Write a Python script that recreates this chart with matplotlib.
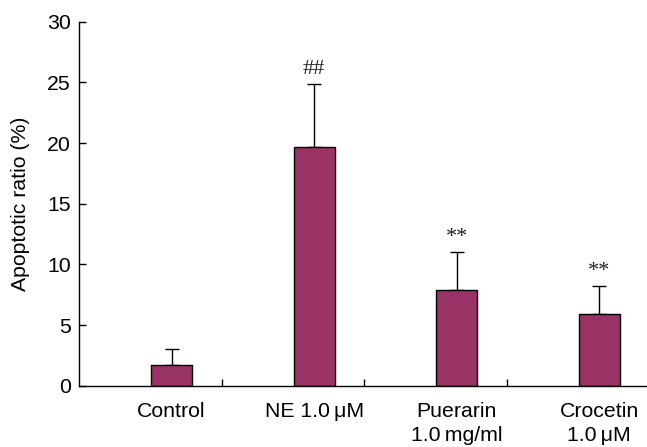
import numpy as np
import matplotlib
matplotlib.use("Agg")
import matplotlib.pyplot as plt
from matplotlib.ticker import FixedLocator

plt.rcParams['font.family'] = ['Liberation Sans', 'DejaVu Sans']

# values
groups = ["Control", "NE 1.0\u2009\u03bcM", "Puerarin\n1.0\u2009mg/ml", "Crocetin\n1.0\u2009\u03bcM"]
means = [1.7, 19.65, 7.85, 5.9]
upper_err = [1.3, 5.25, 3.2, 2.35]
marks = ["", "##", "**", "**"]

bar_color = "#993366"
fs = 15.3

fig = plt.figure(figsize=(6.47, 4.47), dpi=100)
ax = fig.add_axes([0.1221, 0.137, 0.881, 0.8145])

x = np.arange(len(groups)) + 0.5 + 0.15
ax.bar(x, means, width=0.288, color=bar_color, edgecolor="black", linewidth=1.0, zorder=2)
ax.errorbar(x, means, yerr=[np.zeros(len(means)), upper_err], fmt="none",
            ecolor="black", elinewidth=1.0, capsize=4.9, capthick=1.0, zorder=1)

for xi, m, e, s in zip(x, means, upper_err, marks):
    if s:
        ax.annotate(s, (xi, m + e), xytext=(0, 3), textcoords="offset points",
                    ha="center", va="bottom", fontsize=16,
                    family=["Liberation Serif", "DejaVu Serif"], color="#222222")

ax.set_xlim(0, len(groups))
ax.set_ylim(0, 30)
ax.set_yticks(np.arange(0, 31, 5))

ax.xaxis.set_major_locator(FixedLocator([1, 2, 3]))
ax.set_xticklabels([])
ax.xaxis.set_minor_locator(FixedLocator(x))
ax.set_xticklabels(groups, minor=True, fontsize=fs, linespacing=1.3)
ax.tick_params(axis="x", which="major", direction="in", length=5, width=1)
ax.tick_params(axis="x", which="minor", length=0, pad=12)
ax.tick_params(axis="y", direction="in", length=5, width=1, labelsize=fs, pad=6)

ax.set_ylabel("Apoptotic ratio (%)", fontsize=fs, labelpad=12)

for side in ["top", "right"]:
    ax.spines[side].set_visible(False)
for side in ["left", "bottom"]:
    ax.spines[side].set_linewidth(1.0)

fig.savefig("out.png", dpi=100)
